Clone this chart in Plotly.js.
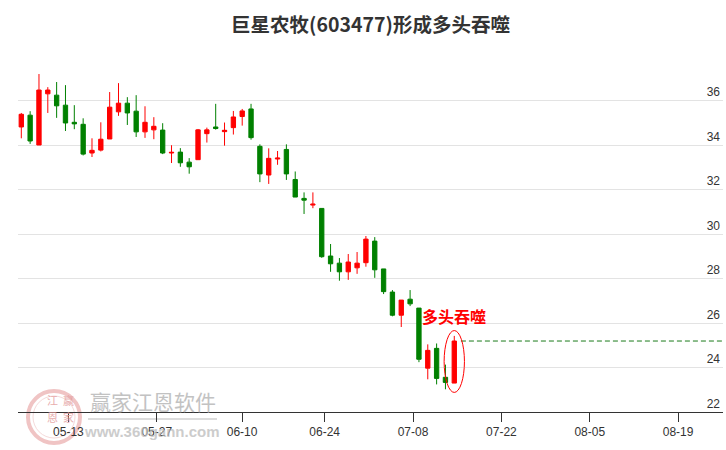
<!DOCTYPE html>
<html>
<head>
<meta charset="utf-8">
<script src="https://cdn.plot.ly/plotly-3.0.1.min.js"></script>
<style>
html,body{margin:0;padding:0;background:#fff;}
#chart{width:726px;height:450px;}
</style>
</head>
<body>
<div id="chart"></div>
<script>
// ---- data ----
const dates = [
  '2024-05-06','2024-05-07','2024-05-08','2024-05-09','2024-05-10',
  '2024-05-13','2024-05-14','2024-05-15','2024-05-16','2024-05-17',
  '2024-05-20','2024-05-21','2024-05-22','2024-05-23','2024-05-24',
  '2024-05-27','2024-05-28','2024-05-29','2024-05-30','2024-05-31',
  '2024-06-03','2024-06-04','2024-06-05','2024-06-06','2024-06-07',
  '2024-06-11','2024-06-12','2024-06-13','2024-06-14',
  '2024-06-17','2024-06-18','2024-06-19','2024-06-20','2024-06-21',
  '2024-06-24','2024-06-25','2024-06-26','2024-06-27','2024-06-28',
  '2024-07-01','2024-07-02','2024-07-03','2024-07-04','2024-07-05',
  '2024-07-08','2024-07-09','2024-07-10','2024-07-11','2024-07-12',
  '2024-07-15'
];
const openP = [34.81,35.34,34.00,36.30,36.24,35.79,35.02,34.93,33.64,33.77,
  34.27,35.49,35.88,35.52,34.59,34.68,34.67,33.64,33.68,33.23,
  33.34,34.51,34.81,34.60,34.78,35.28,35.62,33.94,32.65,33.37,
  33.80,32.45,31.60,31.30,31.15,29.01,28.69,28.30,28.48,28.71,
  29.68,28.43,27.39,26.35,27.07,26.67,23.97,24.86,23.56,23.30];
const highP = [35.44,35.52,37.19,36.60,36.83,36.69,35.79,35.20,34.30,35.02,
  36.38,36.78,36.15,36.24,35.74,35.25,34.98,33.99,33.86,33.41,
  34.72,34.78,35.85,35.01,35.53,35.62,35.85,34.03,33.85,33.73,
  34.03,32.81,31.87,31.87,31.15,29.55,28.92,29.10,29.19,29.91,
  29.86,28.43,27.48,27.03,27.48,26.67,25.04,25.08,24.13,25.42];
const lowP = [34.30,34.05,34.00,35.44,35.22,34.63,34.71,33.53,33.46,33.71,
  34.27,35.31,34.90,34.36,34.32,34.26,33.59,33.19,33.02,32.71,
  33.34,34.11,34.69,33.97,34.47,34.87,34.24,32.33,32.25,33.11,
  32.43,31.66,30.90,31.16,28.93,28.30,27.90,27.94,28.21,28.53,
  28.03,27.30,26.30,25.82,26.76,24.24,23.47,23.24,23.02,23.30];
const closeP = [35.38,34.18,36.47,36.47,35.76,34.99,34.95,33.59,33.76,34.26,
  35.70,35.88,35.44,34.59,35.02,34.84,33.64,33.67,33.20,33.02,
  34.68,34.68,34.74,34.66,35.26,35.53,34.33,32.70,33.40,33.41,
  32.70,31.66,31.52,31.34,28.98,28.66,28.30,28.74,28.69,29.77,
  28.39,27.41,26.35,27.03,26.86,24.37,24.77,23.51,23.33,25.19];
const tickLabels = ['05-13','05-27','06-10','06-24','07-08','07-22','08-05','08-19'];
const tickSlots  = [5, 15, 24.66, 34, 44, 54, 64, 74];   // trading-day slot of each tick
const yTicks = [22,24,26,28,30,32,34,36];
const titleText = '巨星农牧(603477)形成多头吞噬';
const patternText = '多头吞噬';

// ---- build ----
const idx = dates.map((d,i)=>i);
const last = idx.length - 1;
const X_MIN = -0.373, X_MAX = 79.41;

const candle = {
  type:'candlestick', x: idx, open: openP, high: highP, low: lowP, close: closeP,
  text: dates, hoverinfo:'skip', whiskerwidth:0,
  increasing:{line:{color:'#ff0000', width:1}, fillcolor:'#ff0000'},
  decreasing:{line:{color:'#008000', width:1}, fillcolor:'#008000'},
  showlegend:false
};
const refLine = {
  type:'scatter', mode:'lines', x:[last+0.75, X_MAX], y:[closeP[last], closeP[last]],
  line:{color:'#1a7a1a', width:1, dash:'5px,3px'}, hoverinfo:'skip', showlegend:false
};

const W = 705, H = 352, L = 18, T = 60;
function px(x){ return (x - L)/W; }
function py(y){ return (T + H - y)/H; }

const sealFont = {family:'Noto Sans CJK SC, sans-serif', size:11, color:'#e39a9a'};

const layout = {
  width:726, height:450,
  margin:{l:L, r:3, t:T, b:38, pad:0},
  paper_bgcolor:'#ffffff', plot_bgcolor:'#ffffff',
  boxgap:0.3,
  title:{text:titleText, x:0.5, xref:'paper', xanchor:'center', y:1-25.5/450, yref:'container', yanchor:'middle',
    font:{family:'Noto Sans CJK SC, sans-serif', size:19.5, color:'#333333', weight:'bold'}},
  xaxis:{
    range:[X_MIN, X_MAX], type:'linear',
    tickmode:'array', tickvals: tickSlots.map(v=>v+0.33), ticktext: tickLabels,
    ticks:'outside', ticklen:9, tickwidth:1, tickcolor:'#333333',
    showline:true, linecolor:'#333333', linewidth:1,
    showgrid:false, zeroline:false,
    rangeslider:{visible:false},
    tickfont:{family:'Liberation Sans, Arial, sans-serif', size:12, color:'#333333'},
    fixedrange:true
  },
  yaxis:{
    side:'right', range:[22, 37.82],
    tickmode:'array', tickvals:yTicks, ticktext:yTicks.map(String),
    ticklabelposition:'inside top', ticks:'',
    showgrid:true, gridcolor:'#e3e3e3', gridwidth:1,
    showline:false, zeroline:false,
    tickfont:{family:'Liberation Sans, Arial, sans-serif', size:12, color:'#333333'},
    fixedrange:true
  },
  shapes:[
    {type:'circle', xref:'x', yref:'y', x0:last-1.15, x1:last+1.15, y0:lowP[last]-0.42, y1:highP[last]+0.24,
      line:{color:'#ff0000', width:1}},
    // watermark seal
    {type:'circle', xref:'paper', yref:'paper', layer:'below', x0:px(28), x1:px(80), y0:py(443), y1:py(391),
      line:{color:'#f0c4c4', width:4}},
    {type:'circle', xref:'paper', yref:'paper', layer:'below', x0:px(33), x1:px(75), y0:py(438), y1:py(396),
      line:{color:'#f5dada', width:1}},
    {type:'line', xref:'paper', yref:'paper', layer:'below', x0:px(88), x1:px(217), y0:py(419), y1:py(419),
      line:{color:'#dcdcdc', width:2}}
  ],
  annotations:[
    {x:last, y:highP[last], xref:'x', yref:'y', text:patternText, showarrow:false,
      xanchor:'center', yanchor:'bottom', yshift:6,
      font:{family:'Noto Sans CJK SC, sans-serif', size:16, color:'#ff0000', weight:'bold'}},
    {xref:'paper', yref:'paper', x:px(152.5), y:py(400.5), text:'赢家江恩软件', showarrow:false,
      xanchor:'center', yanchor:'middle', opacity:0.8,
      font:{family:'Noto Sans CJK SC, sans-serif', size:21, color:'#b4b4b4'}},
    {xref:'paper', yref:'paper', x:px(151.5), y:py(431), text:'www.360gann.com', showarrow:false,
      xanchor:'center', yanchor:'middle', opacity:0.75,
      font:{family:'Liberation Sans, Arial, sans-serif', size:15, color:'#bcbcbc', weight:'bold'}},
    {xref:'paper', yref:'paper', x:px(46), y:py(409), text:'江', showarrow:false, opacity:0.8, font:sealFont, borderpad:0},
    {xref:'paper', yref:'paper', x:px(62), y:py(409), text:'赢', showarrow:false, opacity:0.8, font:sealFont, borderpad:0},
    {xref:'paper', yref:'paper', x:px(46), y:py(426), text:'恩', showarrow:false, opacity:0.8, font:sealFont, borderpad:0},
    {xref:'paper', yref:'paper', x:px(62), y:py(426), text:'家', showarrow:false, opacity:0.8, font:sealFont, borderpad:0}
  ]
};

Plotly.newPlot('chart', [candle, refLine], layout, {displayModeBar:false, staticPlot:true});
</script>
</body>
</html>
